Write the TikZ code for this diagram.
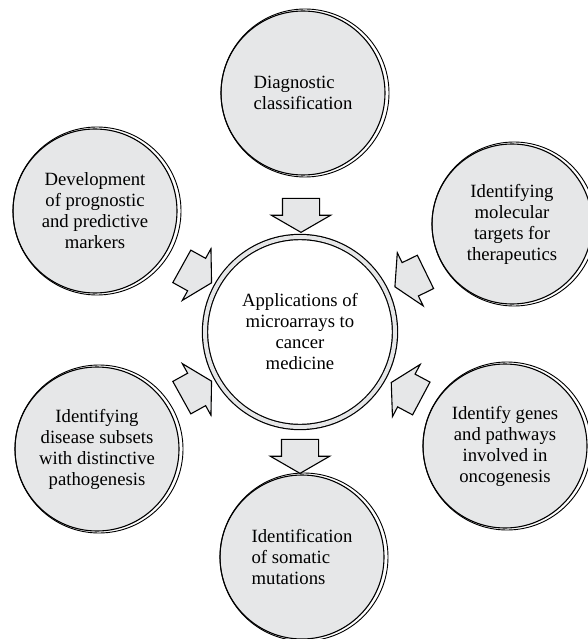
\documentclass[tikz,border=0pt]{standalone}
\usepackage{fontspec}
\setmainfont{Liberation Serif}
\usetikzlibrary{shapes.arrows}
\definecolor{boxgray}{HTML}{E6E7E8}

\begin{document}
\begin{tikzpicture}[x=1pt, y=-1pt,
every node/.style={%
    inner sep =1pt, font=\fontsize{18.7}{21}\selectfont
    },
topic/.style={circle, draw, fill=boxgray, line width=1.1pt, minimum size=164pt, align=center},
hub/.style={circle, draw, line width=1.2pt, double=boxgray, double distance=4pt,
    fill=white, minimum size=190pt, align=center},
blockarrow/.style={single arrow, draw, fill=boxgray, line width=1.1pt,
    inner xsep=0pt, inner ysep=18pt, minimum height=34pt,
    single arrow head extend=11pt, single arrow tip angle=120}
]
\useasboundingbox (0,0) rectangle (587,639);

\node[hub] (apps) at (300,332) {Applications of\\microarrays to\\cancer\\medicine};

\node[topic, align=left] (diag) at (303,93) {Diagnostic\\classification};
\node[topic] (markers) at (95,211) {Development\\of prognostic\\and predictive\\markers};
\node[topic, minimum size=160pt] (targets) at (512,224) {Identifying\\molecular\\targets for\\therapeutics};
\node[topic] (genes) at (505,446) {Identify genes\\and pathways\\involved in\\oncogenesis};
\node[topic] (subsets) at (97,449) {Identifying\\disease subsets\\with distinctive\\pathogenesis};
\node[topic, align=left] (somatic) at (302,557) {Identification\\of somatic\\mutations};

% offset outline behind each topic
\foreach \n/\r in {diag/84,markers/84,targets/82,genes/84,subsets/84,somatic/84}
    \draw [line width=0.9pt] ([xshift=2pt]\n.center) circle (\r pt);

% block arrows
\foreach \n/\p/\a in {arrdiag/{(301,210)}/-90,
                      arrsomatic/{(300,451)}/-90,
                      arrmarkers/{(192,272)}/-29,
                      arrsubsets/{(192,392)}/29,
                      arrtargets/{(415,277)}/206,
                      arrgenes/{(411,393)}/152%
            }
    \node [blockarrow, rotate=\a] (\n) at \p {};
\end{tikzpicture}
\end{document}
